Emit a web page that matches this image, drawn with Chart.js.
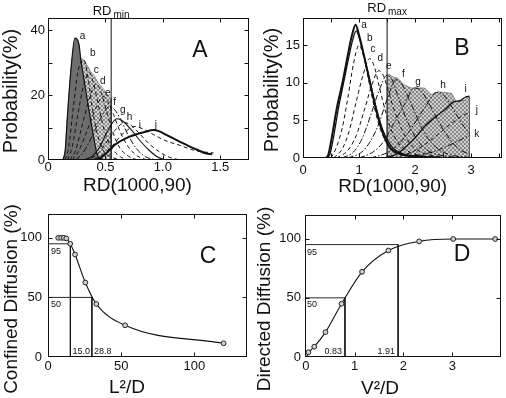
<!DOCTYPE html>
<html><head><meta charset="utf-8">
<script src="https://cdn.jsdelivr.net/npm/chart.js@4.4.1/dist/chart.umd.min.js"></script>
<style>
html,body{margin:0;padding:0;background:#fff;}
#wrap{position:relative;width:506px;height:398px;overflow:hidden;background:#fff;}
canvas{position:absolute;}
</style></head><body>
<div id="wrap">
<canvas id="cA" width="253" height="200" style="left:0;top:0"></canvas>
<canvas id="cB" width="253" height="200" style="left:253px;top:0"></canvas>
<canvas id="cC" width="253" height="198" style="left:0;top:200px"></canvas>
<canvas id="cD" width="253" height="198" style="left:253px;top:200px"></canvas>
</div>
<script>
const FONT = '"Liberation Sans", Arial, Helvetica, sans-serif';

// ---------------- Panel A : Probability(%) vs RD(1000,90) ----------------
const A_a = [[0.13,0],[0.15,3],[0.17,14],[0.2,28],[0.234,37.5],[0.27,35.5],[0.285,31],[0.31,25.5],[0.34,19],[0.37,12.5],[0.40,6.5],[0.43,1.5],[0.47,0.3],[0.52,0]];
const A_b = [[0.15,0],[0.18,4],[0.22,16],[0.26,27],[0.31,31],[0.35,25],[0.39,15],[0.43,8],[0.48,3],[0.55,1],[0.62,0]];
const A_c = [[0.17,0],[0.21,4],[0.26,14],[0.31,23],[0.36,27],[0.40,23],[0.45,15],[0.50,8],[0.56,3.5],[0.63,1],[0.70,0]];
const A_d = [[0.19,0],[0.24,3],[0.30,11],[0.36,19],[0.42,23.5],[0.46,21],[0.51,15],[0.56,9],[0.62,4],[0.70,1.2],[0.78,0]];
const A_e = [[0.21,0],[0.27,3],[0.34,9],[0.41,15.5],[0.48,19.5],[0.52,18],[0.57,14],[0.63,8.5],[0.70,4],[0.78,1.2],[0.86,0]];
const A_f = [[0.24,0],[0.30,2],[0.38,7],[0.46,13],[0.54,16.5],[0.58,15.5],[0.64,12],[0.70,7.5],[0.77,3.5],[0.85,1],[0.94,0]];
const A_g = [[0.30,0],[0.38,1],[0.45,4],[0.52,9],[0.60,12.7],[0.65,12],[0.72,9.5],[0.80,6],[0.88,3],[0.95,1],[1.02,0]];
const A_h = [[0.32,0],[0.42,1.5],[0.50,5],[0.58,9],[0.67,11.5],[0.73,10.5],[0.80,8],[0.88,5],[0.97,2.5],[1.06,0.8],[1.15,0]];
const A_i = [[0.35,0],[0.45,1],[0.55,4],[0.65,8],[0.76,10.3],[0.83,9.5],[0.92,7.8],[1.02,6],[1.15,4.5],[1.25,3.2],[1.35,2.5],[1.44,2.2]];
const A_j = [[0.38,0],[0.45,0.5],[0.52,2.5],[0.58,4.6],[0.71,7.2],[0.85,8.7],[0.915,9.2],[0.97,8.8],[1.03,7.7],[1.15,5.6],[1.27,3.6],[1.38,2],[1.43,1.8]];
const A_env = [[0.13,0],[0.15,3],[0.17,14],[0.2,28],[0.234,37.5],[0.27,35.5],[0.28,31.5],[0.31,30.8],[0.34,29.2],[0.37,27.2],[0.40,26],[0.44,23.6],[0.49,21.5],[0.53,19.5],[0.55,18.8],[0.55,0]];
const A_rdMin = 0.55;
const A_labels = ['a','b','c','d','e','f','g','h','i','j'];
const A_labelX = [0.30,0.39,0.42,0.476,0.52,0.58,0.65,0.71,0.80,0.94];
const A_labelY = [38,32.8,27.7,24.1,20.5,17.9,15.4,13.3,10.8,10.8];

// ---------------- Panel B ----------------
const B_a  = [[0.4,0],[0.45,0.4],[0.52,3],[0.6,6.5],[0.71,10.2],[0.8,13.7],[0.87,16.2],[0.94,17.7],[1.0,16.3],[1.07,14.2],[1.19,10.2],[1.3,6.5],[1.4,3.8],[1.5,2.0],[1.6,1.0],[1.75,0.5],[2.0,0.2],[2.5,0]];
const B_a2 = [[0.42,0],[0.48,0.5],[0.55,3],[0.63,6.5],[0.73,10.2],[0.82,13.5],[0.89,15.8],[0.95,16.9],[1.01,15.8],[1.09,13.5],[1.2,10],[1.32,6.3],[1.42,3.8],[1.52,2.2],[1.62,1.2],[1.8,0.5],[2.1,0.2],[2.6,0]];
const B_b = [[0.5,0],[0.6,1.5],[0.7,4],[0.8,8],[0.9,12.5],[1.0,15],[1.08,13.5],[1.18,10],[1.28,6.5],[1.38,3.8],[1.5,2],[1.65,0.8],[1.85,0.3],[2.1,0]];
const B_c = [[0.55,0],[0.7,1.2],[0.82,3.5],[0.95,7.5],[1.07,11],[1.19,13.2],[1.27,12.2],[1.36,9.5],[1.46,6.5],[1.56,4],[1.7,2],[1.9,0.8],[2.2,0.2],[2.5,0]];
const B_d = [[0.6,0],[0.8,1],[0.95,3],[1.1,6.5],[1.22,9.5],[1.35,11.6],[1.43,11],[1.52,9],[1.62,6.5],[1.75,4],[1.9,2],[2.1,0.8],[2.4,0.2],[2.7,0]];
const B_e = [[0.7,0],[0.9,0.8],[1.05,2.5],[1.2,5.5],[1.35,8.8],[1.5,11],[1.58,10.5],[1.68,8.5],[1.8,6],[1.95,3.5],[2.1,1.8],[2.3,0.7],[2.6,0.2],[2.9,0]];
const B_f = [[0.8,0],[1.05,0.8],[1.2,2.2],[1.35,4.5],[1.5,7.8],[1.66,10.4],[1.75,10],[1.85,8.5],[1.97,6.5],[2.1,4.3],[2.25,2.4],[2.45,1],[2.7,0.3],[2.97,0.1]];
const B_g = [[1.0,0],[1.25,0.8],[1.45,2.3],[1.62,4.6],[1.8,7],[1.99,9.3],[2.1,9],[2.22,7.6],[2.35,5.8],[2.5,3.8],[2.65,2.2],[2.8,1.1],[2.97,0.5]];
const B_h = [[1.2,0],[1.5,0.7],[1.7,1.8],[1.9,3.6],[2.05,5.3],[2.2,7],[2.38,8.7],[2.5,8.4],[2.62,7.2],[2.75,5.6],[2.87,4.2],[2.97,3.2]];
const B_i = [[1.45,0],[1.6,0.3],[1.69,0.6],[1.85,1.6],[2.0,2.7],[2.17,4.2],[2.35,5.4],[2.53,6.4],[2.7,7.5],[2.8,7.6],[2.9,8.1],[2.97,8.2]];
const B_j = [[1.6,0],[1.85,0.5],[2.05,1.2],[2.25,2.2],[2.45,3.4],[2.65,4.6],[2.8,5.4],[2.97,6.1]];
const B_k = [[1.8,0],[2.1,0.4],[2.35,0.9],[2.55,1.5],[2.75,2.2],[2.97,3.0]];
const B_env = [[1.5,0],[1.5,11],[1.54,11.1],[1.6,10.8],[1.69,10.6],[1.81,9.7],[1.93,9.3],[2.05,9.3],[2.17,9.3],[2.29,8.4],[2.41,8.8],[2.53,8.7],[2.65,8.6],[2.73,7.5],[2.88,7.7],[2.97,8.1],[2.97,0]];
const B_rdMax = 1.5;
const B_labels = ['a','b','c','d','e','f','g','h','i','j','k'];
const B_labelX = [1.09,1.19,1.25,1.38,1.53,1.79,2.05,2.5,2.9,3.1,3.1];
const B_labelY = [17.7,15.9,14.4,13.3,12.2,11.1,10.0,9.6,9.1,6.4,3.2];

// ---------------- Panel C : Confined Diffusion (%) vs L²/D ----------------
const C_x = [7, 9, 10.8, 12.5, 15.2, 18.5, 25.5, 33, 52.7, 120];
const C_y = [100, 100, 100, 99.5, 95, 86, 62.5, 44.5, 26.6, 11.5];
const C_guideX = [15.3, 30];
const C_guideY = [95, 50];
const C_guideText = ['15.0', '28.8'];

// ---------------- Panel D : Directed Diffusion (%) vs V²/D ----------------
const D_x = [0, 0.05, 0.17, 0.4, 0.73, 1.15, 1.69, 2.32, 3.02, 3.88];
const D_y = [2.5, 4, 8.7, 21, 45, 72, 90, 97.7, 99.7, 99.7];
const D_guideX = [1.89, 0.8];
const D_guideY = [95, 50];
const D_guideText = ['1.91', '0.83'];

// ---------------- helpers ----------------
const DASH = [4, 3];
const DOTDASH = [6, 2, 1.5, 2];
const pts = arr => arr.map(p => ({x: p[0], y: p[1]}));
const xy = (xs, ys) => xs.map((v, i) => ({x: v, y: ys[i]}));
function line(data, o) {
  return Object.assign({data, borderColor: '#111', borderWidth: 1, pointRadius: 0, fill: false,
    cubicInterpolationMode: 'monotone', order: 0}, o || {});
}
function hatch(canvasId, bg, fg) {
  const c = document.createElement('canvas'); c.width = 4; c.height = 4;
  const g = c.getContext('2d');
  g.fillStyle = bg; g.fillRect(0, 0, 4, 4);
  g.fillStyle = fg;
  for (let i = 0; i < 4; i++) { g.fillRect(i, i, 1, 1); g.fillRect(3 - i, i, 1, 1); }
  return document.getElementById(canvasId).getContext('2d').createPattern(c, 'repeat');
}

const deco = {
  id: 'deco',
  afterDraw(chart, args, o) {
    const {ctx, chartArea: a, scales: {x, y}} = chart;
    ctx.save();
    ctx.strokeStyle = '#111'; ctx.lineWidth = 1;
    const L = Math.round(a.left) + 0.5, T = Math.round(a.top) + 0.5;
    const R = Math.round(a.right) - 0.5, B = Math.round(a.bottom) - 0.5;
    ctx.strokeRect(L, T, R - L, B - T);
    ctx.beginPath();
    const tl = 4;
    x.ticks.forEach(t => {
      const p = Math.round(x.getPixelForValue(t.value)) + 0.5;
      if (p < L + 2 || p > R - 2) return;
      ctx.moveTo(p, B); ctx.lineTo(p, B - tl); ctx.moveTo(p, T); ctx.lineTo(p, T + tl);
    });
    y.ticks.forEach(t => {
      const p = Math.round(y.getPixelForValue(t.value)) + 0.5;
      if (p < T + 2 || p > B - 2) return;
      ctx.moveTo(L, p); ctx.lineTo(L + tl, p); ctx.moveTo(R, p); ctx.lineTo(R - tl, p);
    });
    ctx.stroke();
    ctx.fillStyle = '#111';
    (o.texts || []).forEach(t => {
      ctx.font = (t.size || 10) + 'px ' + FONT;
      ctx.textAlign = t.align || 'center';
      ctx.textBaseline = 'middle';
      const px = (t.px != null ? t.px : x.getPixelForValue(t.x)) + (t.dx || 0);
      const py = (t.py != null ? t.py : y.getPixelForValue(t.y)) + (t.dy || 0);
      if (t.rot) {
        ctx.save(); ctx.translate(px, py); ctx.rotate(-Math.PI / 2);
        ctx.fillText(t.s, 0, 0); ctx.restore();
      } else ctx.fillText(t.s, px, py);
    });
    if (o.rd) {
      ctx.font = '13px ' + FONT;
      const w1 = ctx.measureText(o.rd.main).width;
      ctx.font = '10px ' + FONT;
      const w2 = ctx.measureText(o.rd.sub).width;
      const cx = x.getPixelForValue(o.rd.x);
      const sx = cx - (w1 + 2 + w2) / 2;
      ctx.textAlign = 'left'; ctx.textBaseline = 'middle';
      ctx.font = '13px ' + FONT; ctx.fillText(o.rd.main, sx, o.rd.py);
      ctx.font = '10px ' + FONT; ctx.fillText(o.rd.sub, sx + w1 + 2, o.rd.py + 4);
    }
    ctx.restore();
  }
};

function opts(c) {
  const tickFont = {family: FONT, size: 13};
  return {
    responsive: false, animation: false, devicePixelRatio: 1, events: [],
    layout: {padding: {top: c.pt, right: c.pr, left: 0, bottom: 0}},
    plugins: {legend: {display: false}, tooltip: {enabled: false}, deco: c.deco},
    scales: {
      x: {type: 'linear', min: c.xmin, max: c.xmax, grid: {display: false, drawTicks: false}, border: {display: false},
        ticks: {stepSize: c.xstep, includeBounds: false, autoSkip: false, maxRotation: 0, padding: c.xpad,
          color: '#111', font: tickFont, callback: c.xfmt},
        afterFit: s => { s.height = c.xh; }},
      y: {type: 'linear', min: c.ymin, max: c.ymax, grid: {display: false, drawTicks: false}, border: {display: false},
        ticks: {stepSize: c.ystep, includeBounds: false, autoSkip: false, padding: c.ypad,
          color: '#111', font: tickFont, callback: c.yfmt},
        afterFit: s => { s.width = c.yw; }}
    }
  };
}
const letterTexts = (ls, xs, ys) => ls.map((s, i) => ({s, x: xs[i], y: ys[i], size: 10}));

// ---------------- Chart A ----------------
new Chart(document.getElementById('cA'), {
  type: 'line',
  data: {datasets: [
    line(pts([[A_rdMin, 0], [A_rdMin, 43.7]]), {borderWidth: 1, cubicInterpolationMode: 'default', tension: 0}),
    line(pts(A_j), {borderWidth: 2}),
    line(pts(A_i), {borderDash: DASH}),
    line(pts(A_h), {borderDash: DASH}),
    line(pts(A_g), {borderWidth: 1.1}),
    line(pts(A_f), {borderDash: DOTDASH}),
    line(pts(A_e), {borderDash: DASH}),
    line(pts(A_d), {borderDash: DASH}),
    line(pts(A_c), {borderDash: DASH}),
    line(pts(A_b), {borderDash: DASH}),
    line(pts(A_a), {borderWidth: 1.2, fill: 'origin', backgroundColor: '#6e6e6e', order: 5}),
    line(pts(A_env), {borderWidth: 0.6, borderColor: '#555', fill: 'origin', cubicInterpolationMode: 'default', tension: 0,
      backgroundColor: hatch('cA', '#d4d4d4', '#8e8e8e'), order: 10})
  ]},
  options: opts({pt: 18, pr: 4, xh: 40, yw: 48, xmin: 0, xmax: 1.75, xstep: 0.5, xpad: 0,
    xfmt: v => v === 0 ? '0' : v.toFixed(1),
    ymin: 0, ymax: 43.7, ystep: 10, ypad: 3, yfmt: v => v % 20 === 0 ? String(v) : '',
    deco: {texts: [
      {s: 'RD(1000,90)', px: 137.5, py: 186, size: 19},
      {s: 'Probability(%)', px: 11, py: 91, size: 20, rot: true},
      {s: 'A', px: 200, py: 51, size: 23}
    ].concat(letterTexts(A_labels, A_labelX, A_labelY)),
    rd: {main: 'RD', sub: 'min', x: A_rdMin, py: 11}}
  }),
  plugins: [deco]
});

// ---------------- Chart B ----------------
new Chart(document.getElementById('cB'), {
  type: 'line',
  data: {datasets: [
    line(pts([[B_rdMax, 0], [B_rdMax, 18.6]]), {borderWidth: 1, cubicInterpolationMode: 'default', tension: 0}),
    line(pts(B_a), {borderWidth: 2}),
    line(pts(B_a2), {borderWidth: 1.3}),
    line(pts(B_b), {borderDash: DASH}),
    line(pts(B_c), {borderDash: DASH}),
    line(pts(B_d), {borderDash: DASH}),
    line(pts(B_e), {borderDash: DOTDASH}),
    line(pts(B_f), {borderDash: DOTDASH}),
    line(pts(B_g), {borderDash: DOTDASH}),
    line(pts(B_h), {borderDash: DOTDASH}),
    line(pts(B_i), {borderWidth: 1.4}),
    line(pts(B_j), {borderDash: DASH}),
    line(pts(B_k), {borderDash: DOTDASH}),
    line(pts(B_env), {borderWidth: 0.6, borderColor: '#555', fill: 'origin', cubicInterpolationMode: 'default', tension: 0,
      backgroundColor: hatch('cB', '#cdcdcd', '#8a8a8a'), order: 10})
  ]},
  options: opts({pt: 18, pr: 4, xh: 42, yw: 50, xmin: 0, xmax: 3.55, xstep: 0.5, xpad: 5,
    xfmt: v => Number.isInteger(v) ? String(v) : '',
    ymin: 0, ymax: 18.6, ystep: 5, ypad: 3, yfmt: v => String(v),
    deco: {texts: [
      {s: 'RD(1000,90)', px: 139.7, py: 187, size: 19},
      {s: 'Probability(%)', px: 19.5, py: 90, size: 20, rot: true},
      {s: 'B', px: 209, py: 49, size: 23}
    ].concat(letterTexts(B_labels, B_labelX, B_labelY)),
    rd: {main: 'RD', sub: 'max', x: B_rdMax, py: 8}}
  }),
  plugins: [deco]
});

// ---------------- Chart C ----------------
new Chart(document.getElementById('cC'), {
  type: 'line',
  data: {datasets: [
    line(xy(C_x, C_y), {borderWidth: 1.1, pointRadius: 2.4, pointBorderWidth: 1, pointBorderColor: '#222', pointBackgroundColor: '#d0d0d0'}),
    line(pts([[0, C_guideY[0]], [C_guideX[0], C_guideY[0]], [C_guideX[0], 0]]), {borderWidth: 0.9, cubicInterpolationMode: 'default', tension: 0}),
    line(pts([[0, C_guideY[1]], [C_guideX[1], C_guideY[1]], [C_guideX[1], 0]]), {borderWidth: 0.9, cubicInterpolationMode: 'default', tension: 0})
  ]},
  options: opts({pt: 14, pr: 6, xh: 41, yw: 48, xmin: 0, xmax: 136, xstep: 50, xpad: 2, xfmt: v => String(v),
    ymin: 0, ymax: 120, ystep: 50, ypad: 6, yfmt: v => String(v),
    deco: {texts: [
      {s: 'L\u00B2/D', px: 127, py: 188, size: 19},
      {s: 'Confined Diffusion (%)', px: 11.5, py: 99, size: 19, rot: true},
      {s: 'C', px: 208, py: 57, size: 23},
      {s: String(C_guideY[0]), x: 0, y: C_guideY[0], dx: 3, dy: 8, align: 'left', size: 9},
      {s: String(C_guideY[1]), x: 0, y: C_guideY[1], dx: 3, dy: 7, align: 'left', size: 9},
      {s: C_guideText[0], x: C_guideX[0], y: 0, dx: 2, dy: -5, align: 'left', size: 9},
      {s: C_guideText[1], x: C_guideX[1], y: 0, dx: 2, dy: -5, align: 'left', size: 9}
    ]}
  }),
  plugins: [deco]
});

// ---------------- Chart D ----------------
new Chart(document.getElementById('cD'), {
  type: 'line',
  data: {datasets: [
    line(xy(D_x, D_y), {borderWidth: 1.1, pointRadius: 2.4, pointBorderWidth: 1, pointBorderColor: '#222', pointBackgroundColor: '#d0d0d0'}),
    line(pts([[-0.02, D_guideY[0]], [D_guideX[0], D_guideY[0]], [D_guideX[0], 0]]), {borderWidth: 0.9, cubicInterpolationMode: 'default', tension: 0}),
    line(pts([[-0.02, D_guideY[1]], [D_guideX[1], D_guideY[1]], [D_guideX[1], 0]]), {borderWidth: 0.9, cubicInterpolationMode: 'default', tension: 0})
  ]},
  options: opts({pt: 15, pr: 2, xh: 41, yw: 52, xmin: -0.02, xmax: 4, xstep: 1, xpad: 2,
    xfmt: v => v < 3.5 ? String(v) : '',
    ymin: 0, ymax: 120, ystep: 50, ypad: 4, yfmt: v => String(v),
    deco: {texts: [
      {s: 'V\u00B2/D', px: 127, py: 189, size: 19},
      {s: 'Directed Diffusion (%)', px: 11.5, py: 99, size: 19, rot: true},
      {s: 'D', px: 209, py: 55, size: 23},
      {s: String(D_guideY[0]), x: 0, y: D_guideY[0], dx: 1, dy: 8, align: 'left', size: 9},
      {s: String(D_guideY[1]), x: 0, y: D_guideY[1], dx: 1, dy: 7, align: 'left', size: 9},
      {s: D_guideText[0], x: D_guideX[0], y: 0, dx: -3, dy: -5, align: 'right', size: 9},
      {s: D_guideText[1], x: D_guideX[1], y: 0, dx: -3, dy: -5, align: 'right', size: 9}
    ]}
  }),
  plugins: [deco]
});
</script>
</body></html>
